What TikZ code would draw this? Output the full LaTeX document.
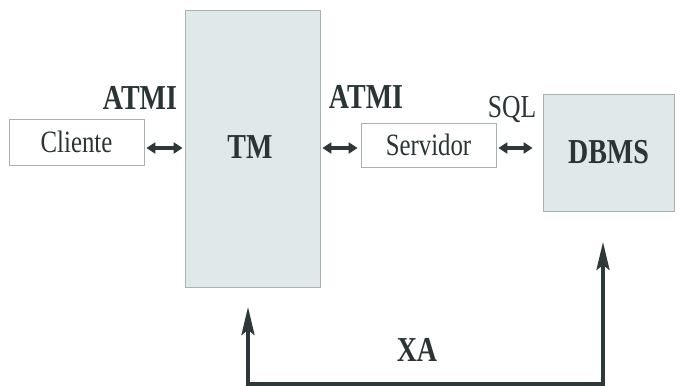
\documentclass[tikz,border=0pt]{standalone}
\usepackage{fontspec}
\setmainfont{Liberation Serif}
\newfontfamily\labfont[FakeStretch=0.8]{Liberation Serif}
\usetikzlibrary{arrows.meta,calc}
\definecolor{txt}{HTML}{2B3434}
\definecolor{boxfill}{HTML}{DFE9EA}
\definecolor{boxline}{HTML}{A8B2B2}
\definecolor{arr}{HTML}{2F3838}
\tikzset{
  plainbox/.style={draw=boxline, line width=0.8pt, fill=white, inner sep=0pt, text=txt,
    font=\labfont\fontsize{31}{31}\selectfont},
  graybox/.style={draw=boxline, line width=0.8pt, fill=boxfill, inner sep=0pt, text=txt,
    font=\labfont\bfseries\fontsize{35}{35}\selectfont},
  boldlabel/.style={text=txt, inner sep=0pt, anchor=base,
    font=\labfont\bfseries\fontsize{35}{35}\selectfont},
  plainlabel/.style={text=txt, inner sep=0pt, anchor=base,
    font=\labfont\fontsize{32}{32}\selectfont},
  dblarrow/.style={draw=arr, line width=3.5pt, {Triangle[length=9pt,width=11pt]}-{Triangle[length=9pt,width=11pt]}},
  xaarrow/.style={draw=arr, line width=3.5pt, {Stealth[length=28pt,width=13pt,inset=5pt]}-{Stealth[length=28pt,width=13pt,inset=5pt]}}
}
\begin{document}
\begin{tikzpicture}[x=1pt,y=-1pt]
\useasboundingbox[fill=white] (0,0) rectangle (681,386);
\node[graybox, minimum width=135pt, minimum height=277pt] (TM) at (252.5,148.5) {};
\node[txt, inner sep=0pt, font=\labfont\bfseries\fontsize{35}{35}\selectfont, text=txt] (TMlab) at (250,147) {TM};
\node[plainbox, minimum width=135pt, minimum height=46pt] (Cli) at (76.5,142) {Cliente};
\node[plainbox, minimum width=135pt, minimum height=44pt] (Serv) at (428.5,145) {Servidor};
\node[graybox, minimum width=131pt, minimum height=117pt] (DB) at (608.5,152.5) {DBMS};
\node[boldlabel] (atmiL) at (140,109) {ATMI};
\node[boldlabel] (atmiR) at (366,108) {ATMI};
\node[plainlabel] (sql) at (512,117) {SQL};
\node[boldlabel] (xa) at (417,361) {XA};
\coordinate (ay) at (0,148);
\draw[dblarrow] ([xshift=2pt]Cli.east |- ay) -- ([xshift=-2pt]TM.west |- ay);
\draw[dblarrow] ([xshift=2pt]TM.east |- ay) -- ([xshift=-3pt]Serv.west |- ay);
\draw[dblarrow] ([xshift=2pt]Serv.east |- ay) -- ([xshift=-10pt]DB.west |- ay);
\coordinate (tmin) at (248,307);
\coordinate (dbin) at (603,242);
\coordinate (base) at (0,384);
\draw[xaarrow, line join=miter] (tmin) -- (tmin |- base) -- (dbin |- base) -- (dbin);
\end{tikzpicture}
\end{document}
